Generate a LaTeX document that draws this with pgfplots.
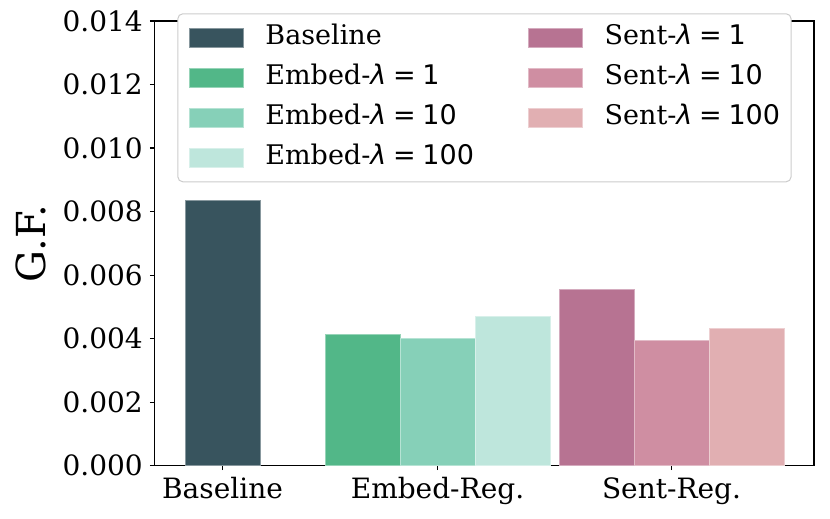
\documentclass[border=0pt]{standalone}
\usepackage{fontspec}
\setmainfont{DejaVu Serif}
\newfontfamily\dvs{DejaVu Sans}
\usepackage{pgfplots}
\pgfplotsset{compat=1.18}
\definecolor{cBase}{RGB}{56,84,94}
\definecolor{cE1}{RGB}{82,183,136}
\definecolor{cE2}{RGB}{134,208,184}
\definecolor{cE3}{RGB}{190,230,220}
\definecolor{cS1}{RGB}{183,115,146}
\definecolor{cS2}{RGB}{207,142,162}
\definecolor{cS3}{RGB}{225,175,178}
\newcommand{\lam}[1]{{\dvs\itshape λ}\hspace{0.25em}{\dvs =}\hspace{0.25em}{\dvs #1}}
\begin{document}
\begin{tikzpicture}
\begin{axis}[
  at={(0,0)}, anchor=south west,
  scale only axis, width=329.85pt, height=222.35pt,
  xmin=154.3, xmax=814, ymin=0, ymax=0.014,
  ybar, bar width=75,
  xtick={222.5,437.5,671.5}, xticklabels={Baseline,Embed-Reg.,Sent-Reg.},
  ytick={0,0.002,0.004,0.006,0.008,0.010,0.012,0.014},
  scaled y ticks=false,
  yticklabel style={/pgf/number format/.cd, fixed, fixed zerofill, precision=3},
  /pgf/number format/assume math mode=true,
  tick align=outside, xtick pos=left, ytick pos=left,
  major tick length=2.25pt,
  tick style={black, line width=0.6pt},
  axis line style={line width=0.6pt},
  ticklabel style={font=\fontsize{14}{16}\selectfont},
  ylabel={G.F.},
  ylabel style={font=\fontsize{20}{24}\selectfont, at={(axis description cs:-0.1869,0.5)}, anchor=center},
  legend columns=2,
  legend style={
    at={(axis description cs:0.0349,1.0173)}, anchor=north west,
    draw=black!20, line width=0.5pt, rounded corners=2.5pt, fill=white,
    inner sep=5.5pt,
    font=\fontsize{13.5}{16}\selectfont,
    row sep=7pt,
    /tikz/every odd column/.append style={column sep=11pt},
    /tikz/every even column/.append style={column sep=27pt},
    cells={anchor=west},
    nodes={inner sep=0pt, text height=10pt, text depth=3pt},
  },
  legend image code/.code={\fill[#1, sharp corners] (0pt,-4.75pt) rectangle (27pt,4.75pt);},
]
\addplot[fill=cBase, draw=cBase!60!white, line width=0.3pt, bar shift=0pt] coordinates {(222.5,0.00837)};
\addlegendentry{Baseline}
\addplot[fill=cS1, draw=cS1!60!white, line width=0.3pt, bar shift=0pt] coordinates {(596.5,0.00555)};
\addlegendentry{Sent-\lam{1}}
\addplot[fill=cE1, draw=cE1!60!white, line width=0.3pt, bar shift=0pt] coordinates {(362.5,0.00415)};
\addlegendentry{Embed-\lam{1}}
\addplot[fill=cS2, draw=cS2!60!white, line width=0.3pt, bar shift=0pt] coordinates {(671.5,0.00394)};
\addlegendentry{Sent-\lam{10}}
\addplot[fill=cE2, draw=cE2!60!white, line width=0.3pt, bar shift=0pt] coordinates {(437.5,0.00402)};
\addlegendentry{Embed-\lam{10}}
\addplot[fill=cS3, draw=cS3!60!white, line width=0.3pt, bar shift=0pt] coordinates {(747,0.00432)};
\addlegendentry{Sent-\lam{100}}
\addplot[fill=cE3, draw=cE3!60!white, line width=0.3pt, bar shift=0pt] coordinates {(512.5,0.00470)};
\addlegendentry{Embed-\lam{100}}
\end{axis}
\pgfresetboundingbox
\path[use as bounding box] (-77.15pt,-26.65pt) rectangle (337.85pt,232.85pt);
\end{tikzpicture}
\end{document}
